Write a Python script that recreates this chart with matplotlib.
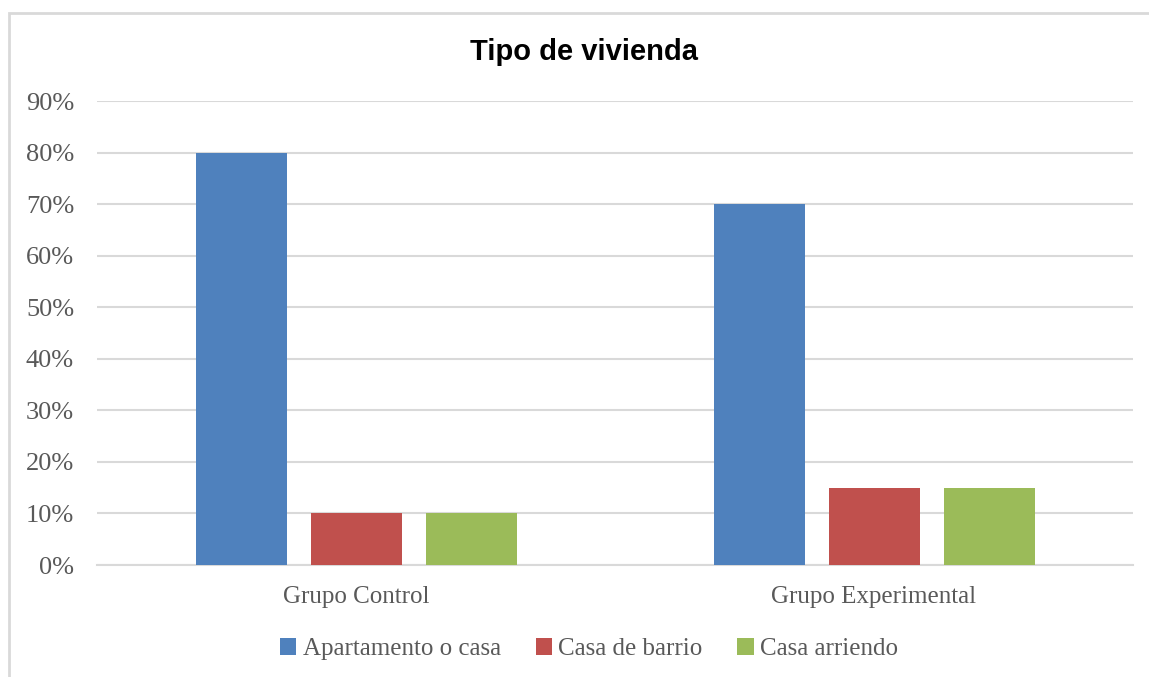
import matplotlib
matplotlib.use("Agg")
import matplotlib.pyplot as plt
from matplotlib.patches import Rectangle, Patch
import numpy as np

categories = ["Grupo Control", "Grupo Experimental"]
series_names = ["Apartamento o casa", "Casa de barrio", "Casa arriendo"]
apartamento = [0.80, 0.70]
casa_barrio = [0.10, 0.15]
casa_arriendo = [0.10, 0.15]
yticks = [0, 0.1, 0.2, 0.3, 0.4, 0.5, 0.6, 0.7, 0.8, 0.9]
ytick_labels = ["0%", "10%", "20%", "30%", "40%", "50%", "60%", "70%", "80%", "90%"]

colors = ["#4F81BD", "#C0504D", "#9BBB59"]
text_color = "#595959"
grid_color = "#D9D9D9"
serif = ["Liberation Serif", "DejaVu Serif"]

fig = plt.figure(figsize=(11.49, 6.77), dpi=100)
ax = fig.add_axes([97/1149, 1-565/677, (1133-97)/1149, (565-101)/677])

x = np.arange(len(categories))
width = 91/518
step = 115/518
series = [apartamento, casa_barrio, casa_arriendo]
for i, (vals, c, name) in enumerate(zip(series, colors, series_names)):
    ax.bar(x + (i-1)*step, vals, width=width, color=c, label=name, zorder=3)

ax.set_xlim(-0.5, 1.5)
ax.set_ylim(0, 0.9)
ax.set_yticks(yticks)
ax.set_yticklabels(ytick_labels, fontfamily=serif, fontsize=19, color=text_color)
ax.set_xticks(x)
ax.set_xticklabels(categories, fontfamily=serif, fontsize=18, color=text_color)
ax.tick_params(axis="both", length=0)
ax.tick_params(axis="y", pad=16.5)
ax.tick_params(axis="x", pad=15)
ax.grid(axis="y", color=grid_color, linewidth=1.5, zorder=0)
for s in ["top", "right", "left"]:
    ax.spines[s].set_visible(False)
ax.spines["bottom"].set_color(grid_color)
ax.spines["bottom"].set_linewidth(1.5)

fig.text(584/1149, 1-52/677, "Tipo de vivienda", ha="center", va="center",
         fontfamily=["Liberation Sans", "DejaVu Sans"], fontweight="bold", fontsize=21, color="black")

handles = [Patch(facecolor=c, label=n) for c, n in zip(colors, series_names)]
leg = fig.legend(handles=handles, loc="center", bbox_to_anchor=(589/1149, 1-649/677), ncol=3,
                 frameon=False, prop={"family": serif, "size": 18}, handlelength=0.65, handleheight=0.65,
                 handletextpad=0.25, columnspacing=1.4)
for t in leg.get_texts():
    t.set_color(text_color)

fig.patches.append(Rectangle((9/1149, -0.1), 1.2, 1-13/677+0.1, transform=fig.transFigure,
                             fill=False, edgecolor=grid_color, linewidth=2))

fig.savefig("out.png", dpi=100)
